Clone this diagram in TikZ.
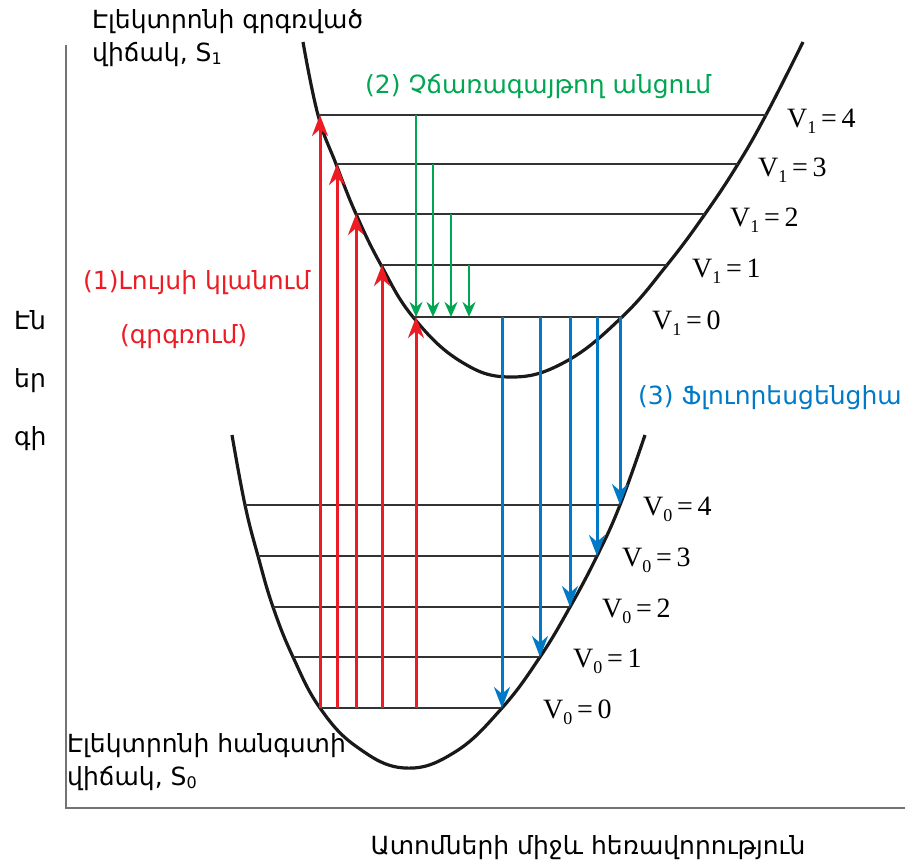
\documentclass[tikz,border=0pt]{standalone}
\usepackage{fontspec}
\setmainfont{DejaVu Sans}
\newfontfamily\vfont{Liberation Serif}
\usetikzlibrary{arrows.meta,positioning}
\definecolor{absred}{RGB}{237,28,36}
\definecolor{nrgreen}{RGB}{0,166,81}
\definecolor{flblue}{RGB}{0,122,198}
\newcommand{\lowsub}[1]{{\fontsize{16}{16}\selectfont\raisebox{-3pt}{#1}}}
\newcommand{\vsub}[1]{{\fontsize{18}{18}\selectfont\raisebox{-6pt}{#1}}}

\begin{document}
\begin{tikzpicture}[x=1pt,y=-1pt,
  curve/.style={line width=3.2pt, black!90},
  level/.style={line width=1.8pt, black!80},
  axis/.style={line width=1.4pt, black!55},
  absarrow/.style={line width=3pt, absred, -{Stealth[length=21pt,width=16pt]}},
  nrarrow/.style={line width=2.8pt, nrgreen, -{Stealth[length=15pt,width=13pt]}},
  flarrow/.style={line width=3pt, flblue, -{Stealth[length=21pt,width=16pt]}},
  lbl/.style={font=\fontsize{25}{33}\selectfont, inner sep=0pt, anchor=west, align=left},
  vlbl/.style={font=\vfont\fontsize{28}{30}\selectfont, inner sep=0pt, anchor=west}]

\useasboundingbox (0,0) rectangle (910,865);

% axes
\draw[axis] (66,45) -- (66,808) -- (905,808);

% potential curves of S1 and S0
\draw[curve] plot[smooth, tension=0.7] coordinates
  {(303,42) (318,115) (336,164) (356,214) (381,265) (413,317) (460,361) (510,377)
   (565,362) (622,317) (667,265) (705,214) (738,164) (767,113) (803,42)};
\draw[curve] plot[smooth, tension=0.7] coordinates
  {(232,435) (245,505) (258,556) (273,607) (293,657) (320,708) (357,747) (405,768)
   (455,752) (502,708) (540,657) (570,607) (597,556) (620,505) (645,435)};

% vibrational levels of S1
\foreach \v/\y/\xl/\xr/\xg/\xv in {0/317/413/622/0/652, 1/265/381/667/469/692,
    2/214/356/705/451/730, 3/164/336/738/433/758, 4/115/318/767/416/787} {
  \coordinate (u\v l) at (\xl,\y);
  \coordinate (u\v r) at (\xr,\y);
  \coordinate (g\v) at (\xg,\y);
  \draw[level] (u\v l) -- (u\v r);
  \node[vlbl] (lu\v) at (\xv,\y+6) {V\vsub{1}\,=\,\v};
}

% vibrational levels of S0
\foreach \v/\y/\xl/\xr/\xv in {0/708/320/502/543, 1/657/293/540/573,
    2/607/273/570/602, 3/556/258/597/622, 4/505/245/620/643} {
  \coordinate (d\v l) at (\xl,\y);
  \coordinate (d\v r) at (\xr,\y);
  \draw[level] (d\v l) -- (d\v r);
  \node[vlbl] (ld\v) at (\xv,\y+4) {V\vsub{0}\,=\,\v};
}

% (1) absorption
\foreach \v/\dx in {4/2, 3/1, 2/0, 1/1, 0/3}
  \draw[absarrow] ([xshift=\dx pt]u\v l |- d0l) -- ([xshift=\dx pt]u\v l);

% (2) non-radiative transitions
\foreach \v in {1,...,4}
  \draw[nrarrow] (g\v) -- (g\v |- u0l);

% (3) fluorescence
\foreach \v in {0,...,4}
  \draw[flarrow] (d\v r |- u0l) -- (d\v r);

% texts
\node[lbl] (s1) at (92,38) {Էլեկտրոնի գրգռված\\վիճակ, S\lowsub{1}};
\node[lbl] (s0) at (67,762) {Էլեկտրոնի հանգստի\\վիճակ, S\lowsub{0}};
\node[lbl, text=nrgreen] (nr) at (365,87) {(2) Չճառագայթող անցում};
\node[lbl, text=absred] (abs) at (83,283) {(1)Լույսի կլանում};
\node[lbl, text=absred] (exc) at (120,337) {(գրգռում)};
\node[lbl, text=flblue] (fl) at (638,398) {(3) Ֆլուորեսցենցիա};
\node[lbl, font=\fontsize{25}{58}\selectfont] (en) at (14,381) {Էն\\եր\\գի};
\node[lbl, anchor=center] (dist) at (588,848) {Ատոմների միջև հեռավորություն};
\end{tikzpicture}
\end{document}
